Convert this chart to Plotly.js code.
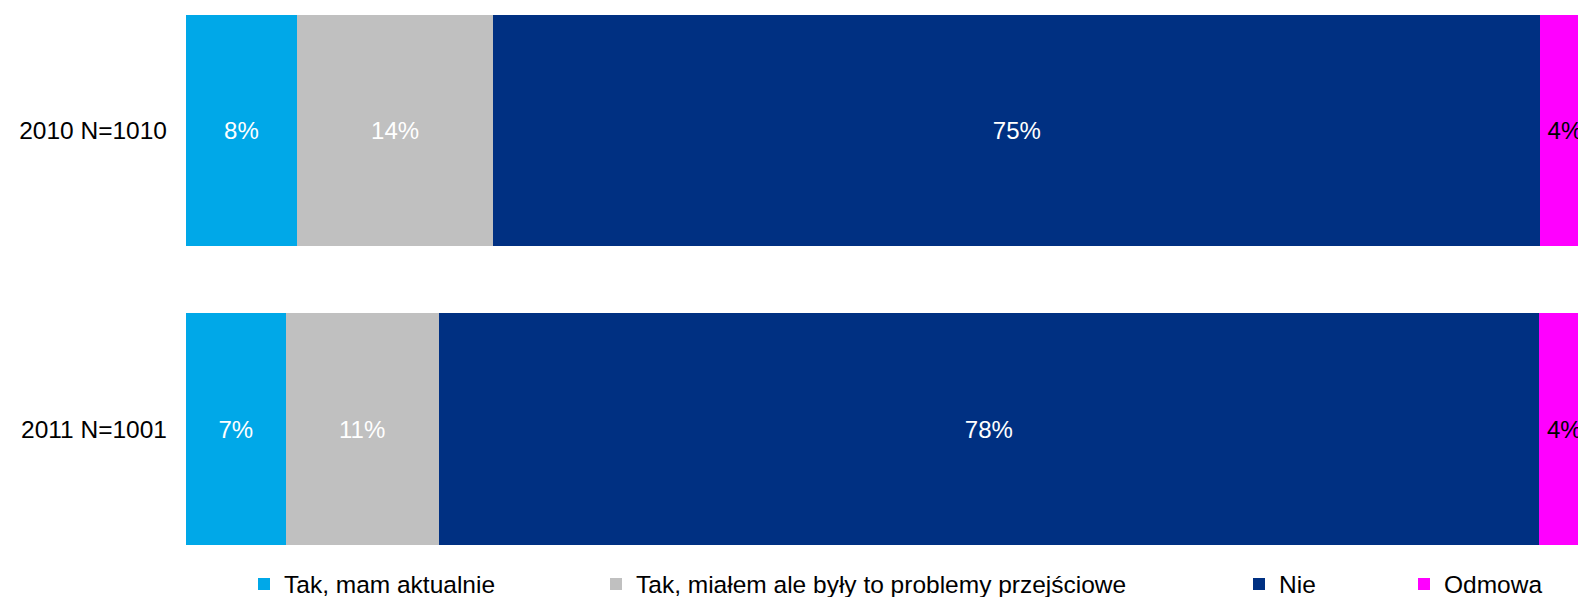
<!DOCTYPE html>
<html>
<head>
<meta charset="utf-8">
<script src="https://cdn.plot.ly/plotly-3.0.1.min.js"></script>
<style>html,body{margin:0;padding:0;background:#fff;overflow:hidden}#chart{width:1578px;height:597px}</style>
</head>
<body>
<div id="chart"></div>
<script>
// Data
const categories = ['2010 N=1010', '2011 N=1001'];
const seriesNames = ['Tak, mam aktualnie', 'Tak, miałem ale były to problemy przejściowe', 'Nie', 'Odmowa'];
const takAktualnie = [7.9, 7.1];
const takPrzejsciowe = [14.0, 10.9];
const nie = [74.6, 78.4];
const odmowa = [3.5, 3.6];

const seriesValues = [takAktualnie, takPrzejsciowe, nie, odmowa];
const colors = ['#00A8E8', '#C0C0C0', '#003082', '#FF00FF'];
const textColors = ['#ffffff', '#ffffff', '#ffffff', '#000000'];
const legendIds = ['legend', 'legend2', 'legend3', 'legend4'];
const legendX = [244, 596, 1239, 1404];

const FONT = 'Liberation Sans, Arial, sans-serif';

const traces = seriesValues.map((vals, i) => ({
  type: 'bar',
  orientation: 'h',
  name: seriesNames[i],
  y: categories,
  x: vals,
  width: 0.773,
  marker: {color: colors[i], line: {width: 0}},
  texttemplate: '%{x:.0f}%',
  textposition: 'inside',
  insidetextanchor: 'middle',
  textangle: 0,
  constraintext: 'none',
  textfont: {family: FONT, size: 24, color: textColors[i]},
  hoverinfo: 'skip',
  legend: legendIds[i],
  showlegend: true
}));

const layout = {
  width: 1578,
  height: 597,
  barmode: 'stack',
  bargap: 0,
  paper_bgcolor: '#ffffff',
  plot_bgcolor: '#ffffff',
  margin: {l: 186, r: 0, t: 0, b: 37, pad: 0},
  font: {family: FONT, size: 24, color: '#000000'},
  hovermode: false,
  xaxis: {
    range: [0, 99.18],
    showgrid: false, zeroline: false, showline: false,
    showticklabels: false, ticks: '', fixedrange: true
  },
  yaxis: {
    type: 'category',
    range: [1.438, -0.435],
    showgrid: false, zeroline: false, showline: false,
    ticks: '', ticklabelstandoff: 18,
    tickfont: {family: FONT, size: 24.5, color: '#000000'},
    fixedrange: true
  }
};

legendIds.forEach((id, i) => {
  layout[id] = {
    xref: 'container', yref: 'container',
    x: legendX[i] / 1578, xanchor: 'left',
    y: 1 - 584 / 597, yanchor: 'middle',
    orientation: 'h',
    bgcolor: 'rgba(0,0,0,0)',
    borderwidth: 0,
    font: {family: FONT, size: 24.5, color: '#000000'}
  };
});

Plotly.newPlot('chart', traces, layout, {displayModeBar: false, staticPlot: true});
</script>
</body>
</html>
